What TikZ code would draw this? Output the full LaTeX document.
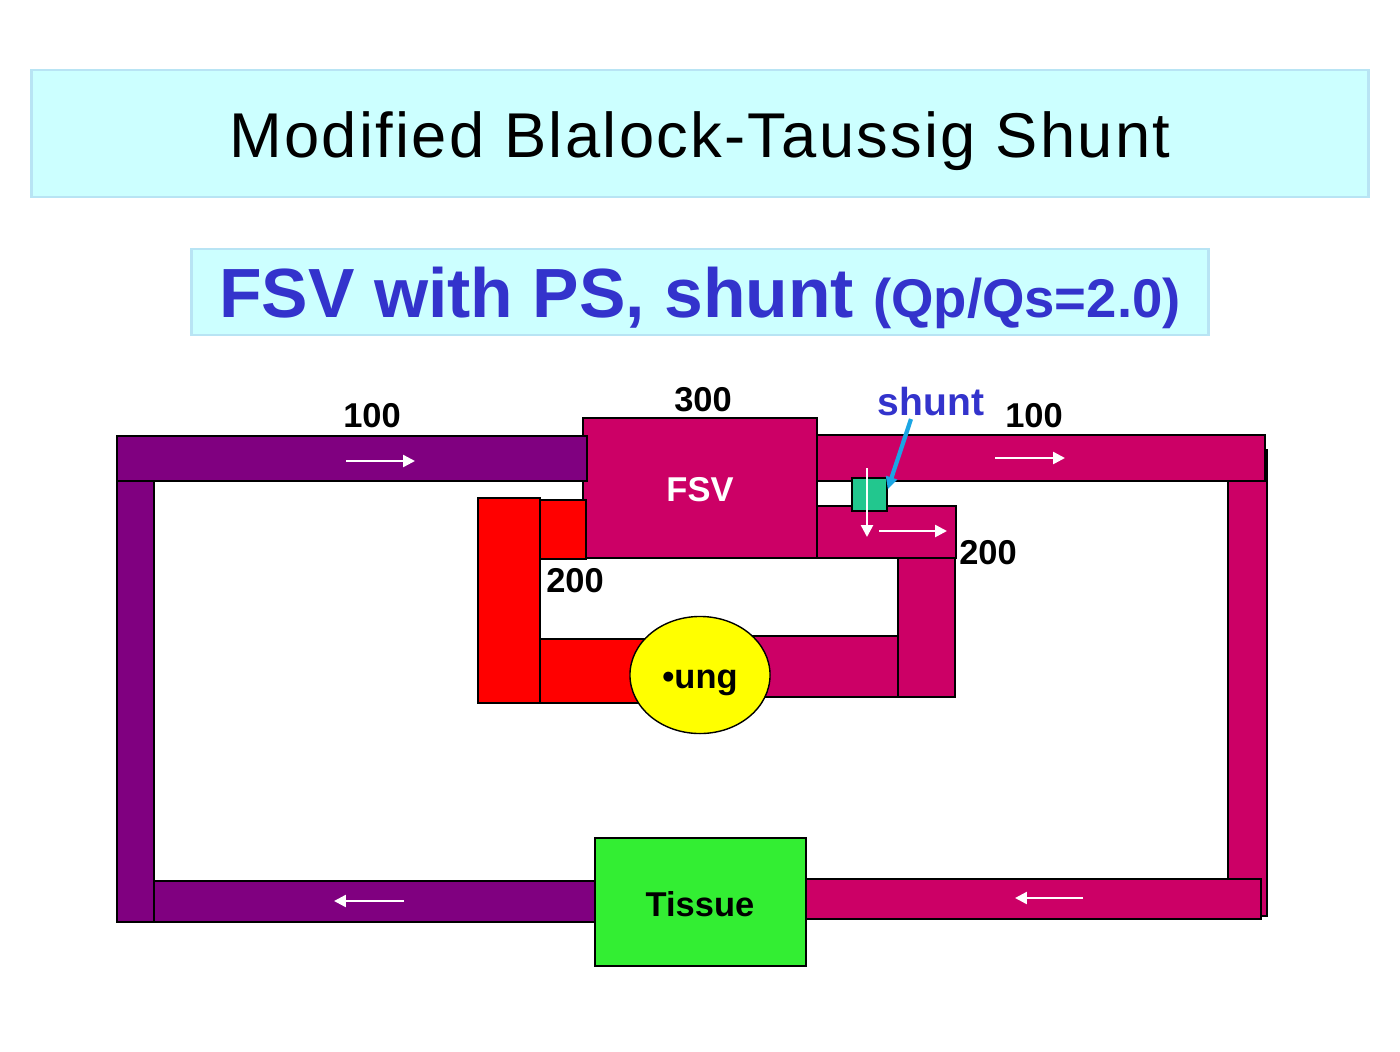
\documentclass[tikz,border=0pt]{standalone}
\usepackage{fontspec}
\setmainfont{Liberation Sans}
\newfontfamily\titlefont[LetterSpace=3.6]{Liberation Sans}
\usepackage{xcolor}
\usepackage{tikz}
\usetikzlibrary{shapes.geometric, arrows.meta, positioning}
\definecolor{btPurple}{HTML}{800080}
\definecolor{btMagenta}{HTML}{CC0066}
\definecolor{btRed}{HTML}{FF0000}
\definecolor{btGreen}{HTML}{33EE33}
\definecolor{btTeal}{HTML}{22C78E}
\definecolor{btYellow}{HTML}{FFFF00}
\definecolor{btCyan}{HTML}{CCFFFF}
\definecolor{btCyanLine}{HTML}{B8E4F4}
\definecolor{btBlue}{HTML}{3333CC}
\definecolor{btSky}{HTML}{1BA6E4}

\begin{document}
\begin{tikzpicture}[
  x=0.01cm, y=-0.01cm,
  font=\bfseries\fontsize{9.8}{11}\selectfont,
  banner/.style={draw=btCyanLine, fill=btCyan, line width=0.8pt, inner sep=0pt},
  bar/.style={draw=black, line width=0.4pt},
  pbar/.style={bar, fill=btPurple},
  mbar/.style={bar, fill=btMagenta},
  rbar/.style={bar, fill=btRed},
  chamber/.style={bar, fill=btMagenta, text=white, inner sep=0pt,
                  minimum width=2.34cm, minimum height=1.40cm},
  tissue/.style={bar, fill=btGreen, inner sep=0pt,
                 minimum width=2.11cm, minimum height=1.28cm},
  lung/.style={ellipse, bar, fill=btYellow, inner sep=0pt,
               minimum width=1.40cm, minimum height=1.17cm},
  shuntbox/.style={bar, fill=btTeal, inner sep=0pt,
                   minimum width=0.35cm, minimum height=0.33cm},
  num/.style={anchor=base, inner sep=0pt},
  flow/.style={draw=white, line width=0.7pt, -{Triangle[length=3.4pt,width=3.4pt]}},
  pointer/.style={draw=btSky, line width=1.2pt, -{Triangle[length=3.5pt,width=3.2pt]}},
]
\useasboundingbox[fill=white] (0,0) rectangle (1400,1051);

% headings
\node[banner, minimum width=13.36cm, minimum height=1.27cm] (title) at (700,133.5) {};
\node[anchor=base, inner sep=0pt, font=\titlefont\fontsize{18}{21}\selectfont]
  (titletext) at (700,157) {Modified Blalock-Taussig Shunt};
\node[banner, minimum width=10.16cm, minimum height=0.86cm] (sub) at (700,292) {};
\node[anchor=base, inner sep=0pt, text=btBlue]
  (subtext) at (700,317) {\fontsize{19.8}{23}\selectfont FSV with PS, shunt
  {\fontsize{15.5}{18}\selectfont (Qp/Qs=2.0)}};

% ventricle
\node[chamber] (fsv) at (700,488) {};

% systemic loop
\draw[pbar] (117,470) rectangle (154,922);
\draw[pbar] (117,436) rectangle (587,481);
\draw[mbar] (1228,450) rectangle (1267,916);
\draw[mbar] (817,435) rectangle (1265,481);
\draw[mbar] (806,879) rectangle (1261,919);
\draw[pbar] (154,881) rectangle (595,922);

% pulmonary loop
\draw[rbar] (478,498) rectangle (540,703);
\draw[rbar] (540,500) rectangle (586,559);
\draw[rbar] (540,639) rectangle (660,703);
\draw[mbar] (817,506) rectangle (956,558);
\draw[mbar] (740,636) rectangle (898,697);
\draw[mbar] (898,558) rectangle (955,697);

\node[lung] (lung) at (700,675) {};
\node[shuntbox] (sq) at (869.5,494.5) {};
\node[tissue] (tis) at (700.5,902) {};

% flow arrows
\draw[flow] (346,461) -- (415,461);
\draw[flow] (995,458) -- (1065,458);
\draw[flow] (404,901) -- (334,901);
\draw[flow] (1083,898) -- (1015,898);
\draw[flow] (867,468) -- (867,537);
\draw[flow] (879,531) -- (947,531);

% labels
\node[num, text=white] (fsvlbl) at (700,501) {FSV};
\node[num] (tislbl) at (700,916) {Tissue};
\node[num] (lunglbl) at (700,688) {•ung};
\node[num] (q1) at (372,427) {100};
\node[num] (q2) at (703,411) {300};
\node[num] (q3) at (1034,427) {100};
\node[num] (q4) at (988,564) {200};
\node[num] (q5) at (575,592) {200};
\node[num, text=btBlue, font=\bfseries\fontsize{11.1}{13}\selectfont] (shuntlbl) at (931,415) {shunt};
\coordinate (ptr) at (911,419);
\draw[pointer] (ptr) -- ([yshift=1.5pt]sq.east);
\end{tikzpicture}
\end{document}
